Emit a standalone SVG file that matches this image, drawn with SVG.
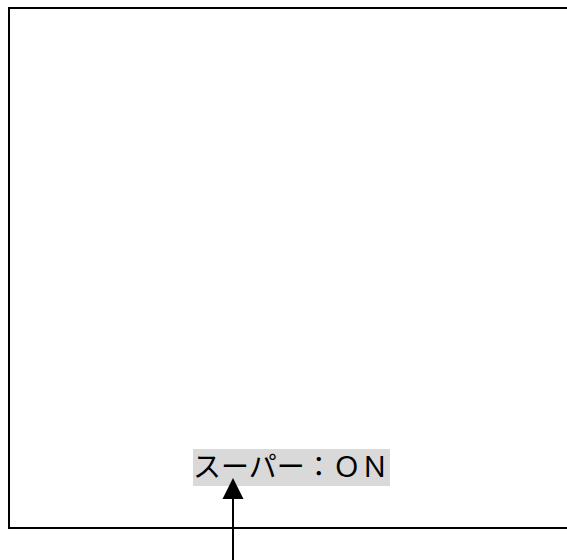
<svg xmlns="http://www.w3.org/2000/svg" width="567" height="560" viewBox="0 0 567 560">
<style>
.frame{fill:none;stroke:#000;stroke-width:2}
.lbl{font-family:"Noto Sans CJK JP","Liberation Sans",sans-serif;font-size:28px;fill:#000}
.conn{stroke:#000;stroke-width:2;fill:none}
</style>
<rect width="567" height="560" fill="#fff"/>
<g id="screen">
<rect class="frame" x="9" y="8" width="570" height="520"/>
</g>
<g id="label">
<rect x="193" y="449" width="197" height="37" fill="#d9d9d9"/>
<text class="lbl" x="193" y="477">スーパー：ＯＮ</text>
</g>
<g id="connectors">
<line class="conn" x1="233" y1="497" x2="233" y2="560"/>
<polygon points="233,478 222.5,499 243.5,499" fill="#000"/>
</g>
</svg>
